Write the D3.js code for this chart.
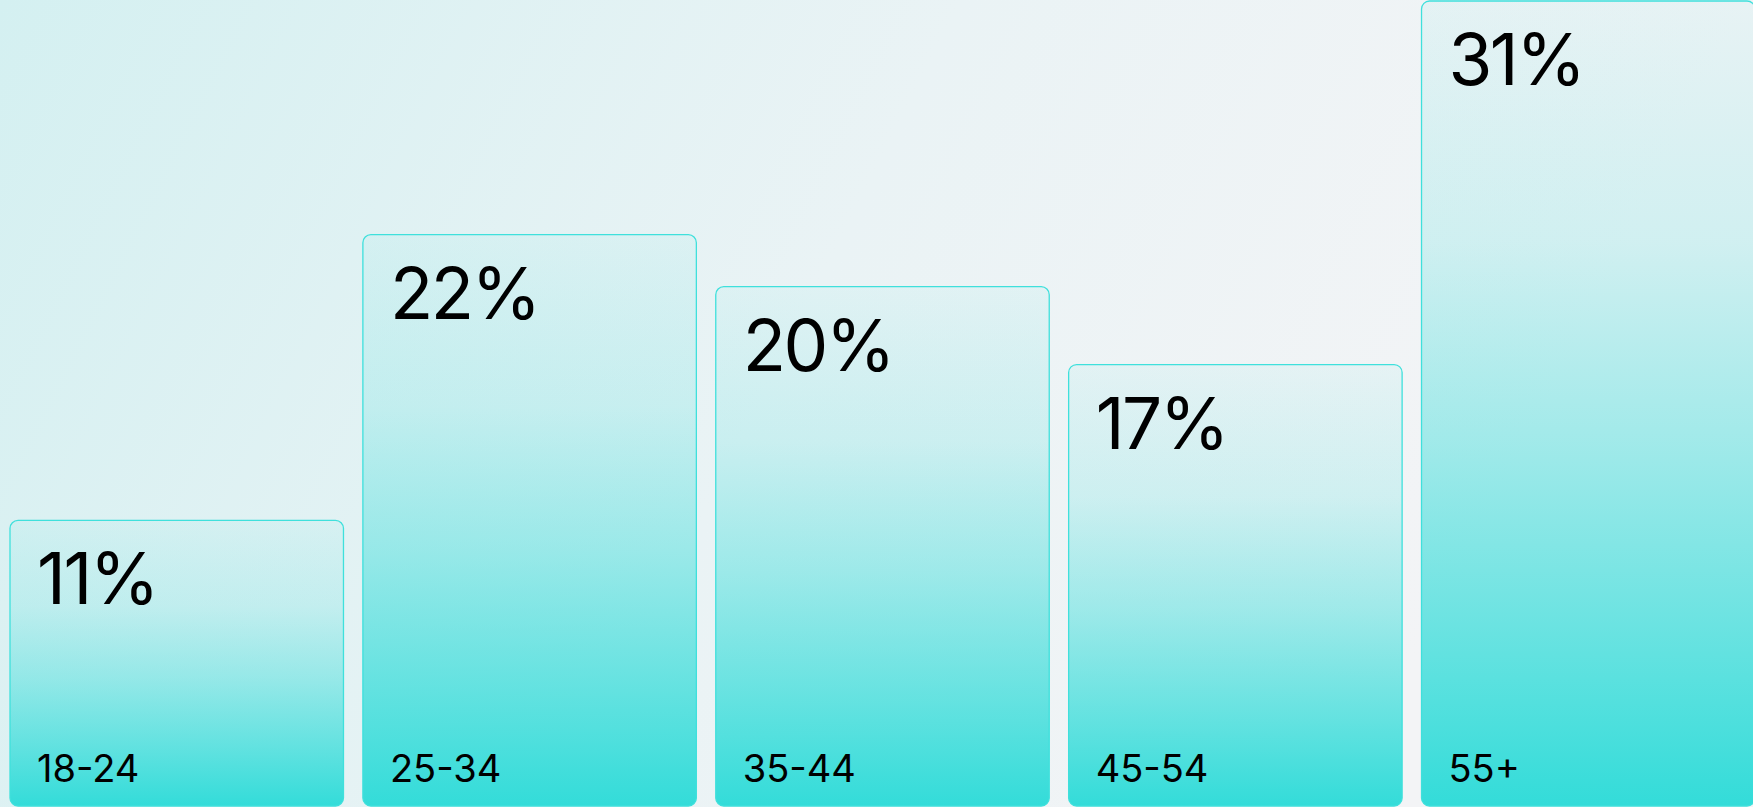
<!DOCTYPE html>
<html>
<head>
<meta charset="utf-8">
<script src="https://cdn.jsdelivr.net/npm/d3@7"></script>
<style>
  html, body { margin: 0; padding: 0; overflow: hidden; }
  body { width: 1753px; height: 807px; }
  svg { display: block; }
  .pct { font-family: Inter, "Liberation Sans", sans-serif; font-size: 71px; font-weight: 400; fill: #000; letter-spacing: -2.5px; }
  .cat { font-family: Inter, "Liberation Sans", sans-serif; font-size: 38px; font-weight: 400; fill: #000; }
</style>
</head>
<body>
<script>
var categories = ["18-24", "25-34", "35-44", "45-54", "55+"];
var shares = [11, 22, 20, 17, 31];
var shareLabels = ["11%", "22%", "20%", "17%", "31%"];

var width = 1753, height = 807;

var x = d3.scaleBand()
    .domain(categories)
    .range([10, 1755])
    .paddingInner(0.055)
    .paddingOuter(0);

var y = d3.scaleLinear()
    .domain([0, 31])
    .range([806, 1]);

var svg = d3.select("body").append("svg")
    .attr("width", width)
    .attr("height", height);

var defs = svg.append("defs");

// background wash, light teal top-left fading to grey on the right
var bg = defs.append("linearGradient")
    .attr("id", "bg")
    .attr("gradientUnits", "userSpaceOnUse")
    .attr("x1", 0).attr("y1", 0)
    .attr("x2", 1400).attr("y2", 700);
bg.append("stop").attr("offset", "0%").attr("stop-color", "#d4f0f1");
bg.append("stop").attr("offset", "55%").attr("stop-color", "#eaf3f5");
bg.append("stop").attr("offset", "100%").attr("stop-color", "#f3f4f6");

// bar fill, per bar: faint at the top, full teal at the bottom
var barFill = defs.append("linearGradient")
    .attr("id", "barFill")
    .attr("x1", 0).attr("y1", 0)
    .attr("x2", 0).attr("y2", 1);
[[0, 0.06], [0.3, 0.18], [0.55, 0.43], [0.8, 0.74], [1, 1]].forEach(function(s) {
    barFill.append("stop")
        .attr("offset", s[0])
        .attr("stop-color", "#33dcd9")
        .attr("stop-opacity", s[1]);
});

svg.append("rect")
    .attr("width", width)
    .attr("height", height)
    .attr("fill", "url(#bg)");

var bars = svg.selectAll("g.bar")
    .data(categories)
    .enter().append("g")
    .attr("class", "bar");

bars.append("rect")
    .attr("x", function(d) { return x(d); })
    .attr("y", function(d, i) { return y(shares[i]); })
    .attr("width", x.bandwidth())
    .attr("height", function(d, i) { return y(0) - y(shares[i]); })
    .attr("rx", 8)
    .attr("ry", 8)
    .attr("fill", "url(#barFill)")
    .attr("stroke", "#3fe0dc")
    .attr("stroke-width", 1.3);

bars.append("text")
    .attr("class", "pct")
    .attr("x", function(d) { return x(d) + 27; })
    .attr("y", function(d, i) { return y(shares[i]) + 84; })
    .text(function(d, i) { return shareLabels[i]; });

bars.append("text")
    .attr("class", "cat")
    .attr("x", function(d) { return x(d) + 27; })
    .attr("y", y(0) - 24)
    .text(function(d) { return d; });
</script>
</body>
</html>
